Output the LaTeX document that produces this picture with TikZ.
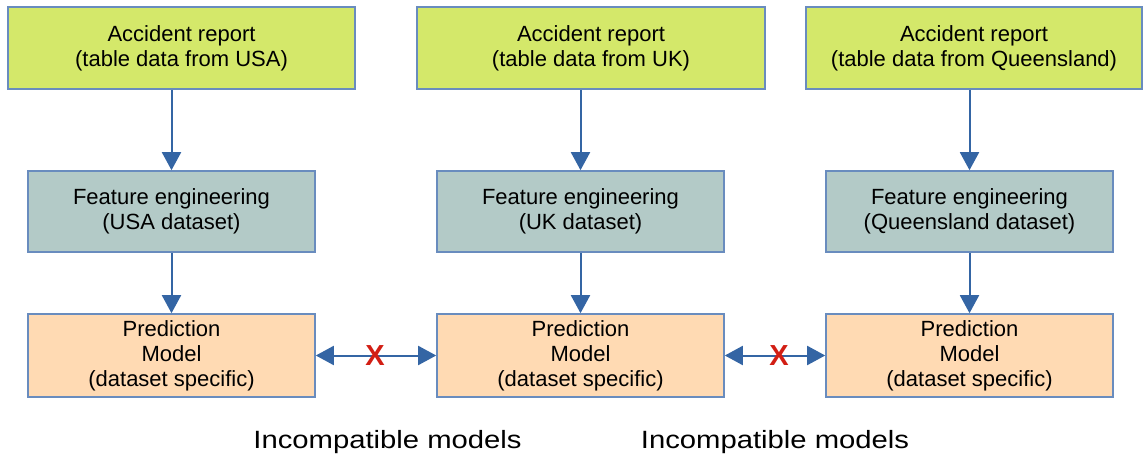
\documentclass[tikz,border=0pt]{standalone}
\usepackage{fontspec}
\setmainfont{Liberation Sans}
\usetikzlibrary{arrows.meta}
\definecolor{topfill}{RGB}{212,232,106}
\definecolor{midfill}{RGB}{179,202,199}
\definecolor{botfill}{RGB}{255,218,179}
\definecolor{edgeblue}{RGB}{105,140,190}
\definecolor{arrowblue}{RGB}{52,101,164}
\definecolor{xred}{RGB}{210,30,20}
\begin{document}
\begin{tikzpicture}[x=1pt,y=-1pt,
  box/.style={draw=edgeblue,line width=1.6pt,inner sep=0pt,align=center,
    font=\fontsize{22}{25}\selectfont},
  topbox/.style={box,fill=topfill,minimum height=82pt},
  midbox/.style={box,fill=midfill,minimum height=81pt,minimum width=287pt},
  botbox/.style={box,fill=botfill,minimum height=83pt,minimum width=287pt},
  conn/.style={draw=arrowblue,line width=2pt,-{Triangle[length=18pt,width=19pt]}},
  dconn/.style={draw=arrowblue,line width=2pt,{Triangle[length=18pt,width=19pt]}-{Triangle[length=18pt,width=19pt]}},
  xmark/.style={text=xred,font=\fontsize{29}{29}\selectfont\bfseries,inner sep=0pt},
  caption/.style={anchor=base,inner sep=0pt,font=\fontsize{25}{25}\selectfont}
]
\useasboundingbox (0,0) rectangle (1145,457);

% top row
\node[topbox,minimum width=347pt] (t1) at (181.5,48) {Accident report\\(table data from USA)};
\node[topbox,minimum width=348pt] (t2) at (591,48) {Accident report\\(table data from UK)};
\node[topbox,minimum width=336pt] (t3) at (974,48) {Accident report\\(table data from Queensland)};

% middle row
\node[midbox] (m1) at (171.5,211.5) {Feature engineering\\(USA dataset)};
\node[midbox] (m2) at (580.5,211.5) {Feature engineering\\(UK dataset)};
\node[midbox] (m3) at (969.5,211.5) {Feature engineering\\(Queensland dataset)};

% bottom row
\node[botbox] (b1) at (171.5,355.5) {Prediction\\Model\\(dataset specific)};
\node[botbox] (b2) at (580.5,355.5) {Prediction\\Model\\(dataset specific)};
\node[botbox] (b3) at (969.5,355.5) {Prediction\\Model\\(dataset specific)};

% vertical connectors
\draw[conn] (t1.south -| m1.north) -- (m1.north);
\draw[conn] (t2.south -| m2.north) -- (m2.north);
\draw[conn] (t3.south -| m3.north) -- (m3.north);
\draw[conn] (m1.south) -- (b1.north);
\draw[conn] (m2.south) -- (b2.north);
\draw[conn] (m3.south) -- (b3.north);

% horizontal connectors
\draw[dconn] (b1.east) -- (b2.west);
\draw[dconn] (b2.east) -- (b3.west);

% crosses
\node[xmark] (x1) at (375,356) {X};
\node[xmark] (x2) at (779,356) {X};

% captions
\node[caption] (c1) at (387.5,448) {\scalebox{1.17}[1]{Incompatible models}};
\node[caption] (c2) at (775,448) {\scalebox{1.17}[1]{Incompatible models}};
\end{tikzpicture}
\end{document}
